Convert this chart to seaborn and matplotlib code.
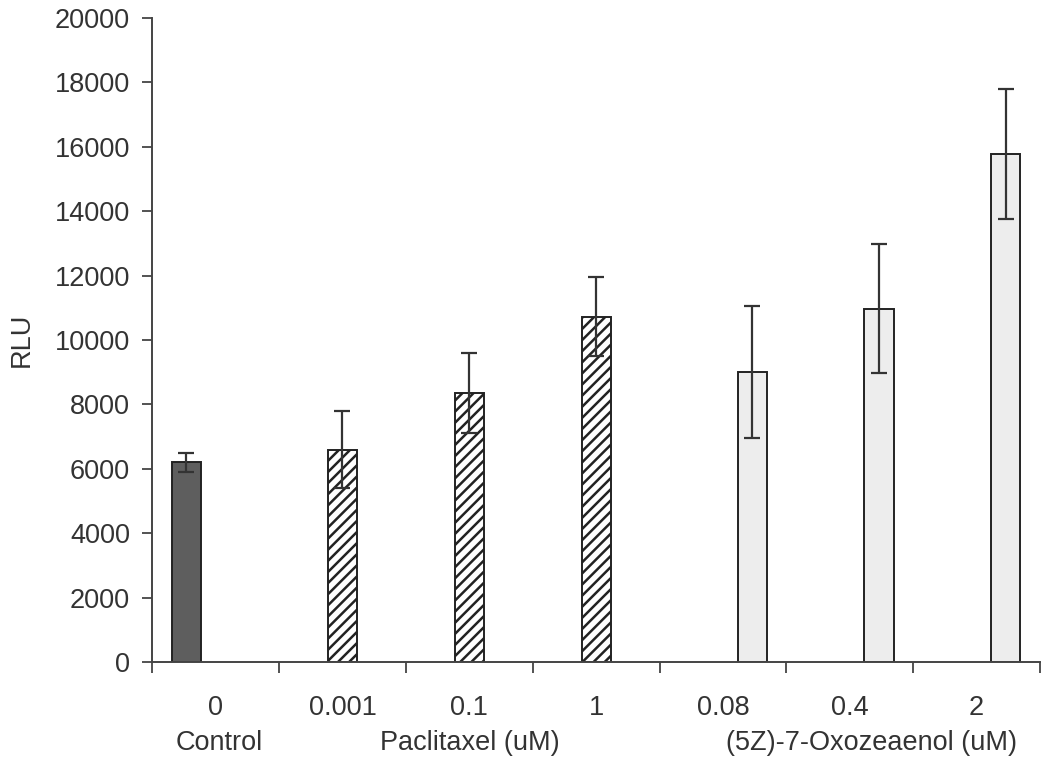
import pandas as pd
import matplotlib
matplotlib.use("Agg")
import matplotlib.pyplot as plt
import seaborn as sns

# Chart values
doses = ["0", "0.001", "0.1", "1", "0.08", "0.4", "2"]
groups = ["Control", "Paclitaxel", "Oxozeaenol"]
dose_group = ["Control", "Paclitaxel", "Paclitaxel", "Paclitaxel",
              "Oxozeaenol", "Oxozeaenol", "Oxozeaenol"]
rlu = [6200, 6600, 8350, 10730, 9000, 10970, 15780]
rlu_err = [300, 1200, 1250, 1220, 2050, 2000, 2020]
group_labels = ["Control", "Paclitaxel (uM)", "(5Z)-7-Oxozeaenol (uM)"]
group_label_pos = [0.03, 2, 5.17]

df = pd.DataFrame({"dose": doses, "group": dose_group, "rlu": rlu, "err": rlu_err})

sns.set_style("white")
plt.rcParams["font.family"] = ["Liberation Sans", "DejaVu Sans"]
plt.rcParams["hatch.linewidth"] = 1.8
text_color = "#333333"
spine_color = "#444444"
fs = 19.5

fig = plt.figure(figsize=(10.5, 7.68), dpi=100)
ax = fig.add_axes([0.145, 0.138, 0.8455, 0.8385])

palette = {"Control": "#5e5e5e", "Paclitaxel": "white", "Oxozeaenol": "#ededed"}
sns.barplot(data=df, x="dose", y="rlu", hue="group", order=doses, hue_order=groups,
            palette=palette, dodge=True, width=0.69, errorbar=None, legend=False,
            edgecolor="#222222", linewidth=1.4, ax=ax)

for container, group in zip(ax.containers, groups):
    sub = df[df["group"] == group]
    xs, ys = [], []
    for bar in container:
        xs.append(bar.get_x() + bar.get_width() / 2)
        ys.append(bar.get_height())
        if group == "Paclitaxel":
            bar.set_hatch("///")
    ax.errorbar(xs, ys, yerr=sub["err"].values, fmt="none", ecolor="#333333",
                elinewidth=1.6, capsize=6, capthick=1.6, zorder=5)

# Axes styling
ax.set_xlim(-0.5, 6.5)
ax.set_ylim(0, 20000)
ax.set_yticks(range(0, 20001, 2000))
ax.tick_params(axis="y", direction="out", length=7, width=1.3, color=spine_color,
               labelsize=fs, labelcolor=text_color, left=True, pad=9)
ax.set_xticks(range(len(doses)))
ax.set_xticklabels(doses)
ax.tick_params(axis="x", which="major", length=0, labelsize=fs, labelcolor=text_color, pad=24)
ax.set_xticks([i - 0.5 for i in range(len(doses) + 1)], minor=True)
ax.tick_params(axis="x", which="minor", direction="out", length=8, width=1.3,
               color=spine_color, bottom=True)
sns.despine(ax=ax)
for side in ["left", "bottom"]:
    ax.spines[side].set_color(spine_color)
    ax.spines[side].set_linewidth(1.4)

ax.set_xlabel("")
ax.set_ylabel("RLU", fontsize=fs, color=text_color, labelpad=14)

for label, pos in zip(group_labels, group_label_pos):
    ax.text(pos, -0.126, label, transform=ax.get_xaxis_transform(),
            ha="center", va="center", fontsize=fs, color=text_color)

fig.savefig("out.png", dpi=100)
